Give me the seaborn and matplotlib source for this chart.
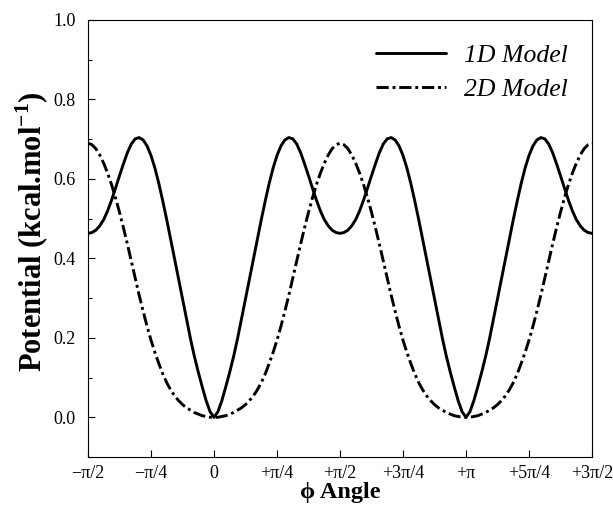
import numpy as np
import pandas as pd
import matplotlib
matplotlib.use("Agg")
import matplotlib.pyplot as plt
import seaborn as sns
from matplotlib.ticker import MultipleLocator, FixedLocator

# ---- data: angle in degrees, step = pi/64 ----
angle_deg = np.linspace(-90, 270, 129)

v_1d = [
    # -pi/2 .. 0
    0.463, 0.465, 0.471, 0.482, 0.498, 0.520, 0.547, 0.577, 0.608, 0.638, 0.666,
    0.688, 0.701, 0.704, 0.698, 0.683, 0.659, 0.627, 0.588, 0.544, 0.497, 0.448,
    0.398, 0.348, 0.298, 0.248, 0.199, 0.154, 0.114, 0.077, 0.042, 0.014, 0.000,
    # 0 .. pi/2
    0.014, 0.042, 0.077, 0.114, 0.154, 0.199, 0.248, 0.298, 0.348, 0.398, 0.448,
    0.497, 0.544, 0.588, 0.627, 0.659, 0.683, 0.698, 0.704, 0.701, 0.688, 0.666,
    0.638, 0.608, 0.577, 0.547, 0.520, 0.498, 0.482, 0.471, 0.465, 0.463,
    # pi/2 .. pi
    0.465, 0.471, 0.482, 0.498, 0.520, 0.547, 0.577, 0.608, 0.638, 0.666, 0.688,
    0.701, 0.704, 0.698, 0.683, 0.659, 0.627, 0.588, 0.544, 0.497, 0.448, 0.398,
    0.348, 0.298, 0.248, 0.199, 0.154, 0.114, 0.077, 0.042, 0.014, 0.000,
    # pi .. 3pi/2
    0.014, 0.042, 0.077, 0.114, 0.154, 0.199, 0.248, 0.298, 0.348, 0.398, 0.448,
    0.497, 0.544, 0.588, 0.627, 0.659, 0.683, 0.698, 0.704, 0.701, 0.688, 0.666,
    0.638, 0.608, 0.577, 0.547, 0.520, 0.498, 0.482, 0.471, 0.465, 0.463,
]

v_2d = [
    # -pi/2 .. 0
    0.690, 0.686, 0.676, 0.660, 0.639, 0.614, 0.585, 0.552, 0.516, 0.477, 0.436,
    0.393, 0.350, 0.307, 0.267, 0.229, 0.194, 0.163, 0.135, 0.109, 0.087, 0.069,
    0.054, 0.042, 0.032, 0.024, 0.018, 0.012, 0.008, 0.004, 0.002, 0.000, 0.000,
    # 0 .. pi/2
    0.000, 0.002, 0.004, 0.008, 0.012, 0.018, 0.024, 0.032, 0.042, 0.054, 0.069,
    0.087, 0.109, 0.135, 0.163, 0.194, 0.229, 0.267, 0.307, 0.350, 0.393, 0.436,
    0.477, 0.516, 0.552, 0.585, 0.614, 0.639, 0.660, 0.676, 0.686, 0.690,
    # pi/2 .. pi
    0.686, 0.676, 0.660, 0.639, 0.614, 0.585, 0.552, 0.516, 0.477, 0.436, 0.393,
    0.350, 0.307, 0.267, 0.229, 0.194, 0.163, 0.135, 0.109, 0.087, 0.069, 0.054,
    0.042, 0.032, 0.024, 0.018, 0.012, 0.008, 0.004, 0.002, 0.000, 0.000,
    # pi .. 3pi/2
    0.000, 0.002, 0.004, 0.008, 0.012, 0.018, 0.024, 0.032, 0.042, 0.054, 0.069,
    0.087, 0.109, 0.135, 0.163, 0.194, 0.229, 0.267, 0.307, 0.350, 0.393, 0.436,
    0.477, 0.516, 0.552, 0.585, 0.614, 0.639, 0.660, 0.676, 0.686, 0.690,
]

model_names = ["1D Model", "2D Model"]
xtick_pos = [-90, -45, 0, 45, 90, 135, 180, 225, 270]
xtick_labels = ["\u2212\u03c0/2", "\u2212\u03c0/4", "0", "+\u03c0/4", "+\u03c0/2",
                "+3\u03c0/4", "+\u03c0", "+5\u03c0/4", "+3\u03c0/2"]
ytick_pos = [0.0, 0.2, 0.4, 0.6, 0.8, 1.0]

# ---- style ----
sns.set_style("ticks")
plt.rcParams["font.family"] = ["Liberation Serif", "DejaVu Serif"]
plt.rcParams["mathtext.fontset"] = "custom"
plt.rcParams["mathtext.rm"] = "Liberation Serif"
plt.rcParams["mathtext.bf"] = "Liberation Serif:bold"
plt.rcParams["axes.linewidth"] = 0.8
plt.rcParams["text.color"] = "black"
plt.rcParams["axes.labelcolor"] = "black"
plt.rcParams["xtick.color"] = "black"
plt.rcParams["ytick.color"] = "black"

df = pd.DataFrame({
    "angle": np.concatenate([angle_deg, angle_deg]),
    "V": np.concatenate([v_1d, v_2d]),
    "Model": [model_names[0]] * len(v_1d) + [model_names[1]] * len(v_2d),
})

fig = plt.figure(figsize=(6.13, 5.08), dpi=100)
ax = fig.add_axes([88 / 613, 1 - 457 / 508, 504 / 613, 437 / 508])

lw = 2.1
sns.lineplot(data=df, x="angle", y="V", style="Model", color="black",
             dashes={model_names[0]: "", model_names[1]: (4.2, 1.3, 1.0, 1.3)},
             linewidth=lw, estimator=None, sort=False, ax=ax)

ax.set_xlim(-90, 270)
ax.set_ylim(-0.1, 1.0)
ax.xaxis.set_major_locator(FixedLocator(xtick_pos))
ax.set_xticklabels(xtick_labels)
ax.yaxis.set_major_locator(FixedLocator(ytick_pos))
ax.set_yticklabels([f"{v:.1f}" for v in ytick_pos])
ax.yaxis.set_minor_locator(MultipleLocator(0.1))
ax.tick_params(axis="both", which="major", direction="in", length=5, width=0.8,
               labelsize=13, colors="black")
ax.tick_params(axis="y", which="major", pad=9)
ax.tick_params(axis="x", which="major", pad=6)
ax.tick_params(axis="y", which="minor", direction="in", length=3, width=0.8)
ax.tick_params(top=False, right=False)
for s in ax.spines.values():
    s.set_visible(True)
    s.set_color("black")

ax.set_xlabel("\u03d5 Angle", fontsize=17.5, fontweight="bold")
ax.xaxis.set_label_coords(0.5, -0.057)
ax.set_ylabel(r"Potential (kcal.mol$^{\mathbf{-1}}$)", fontsize=22, fontweight="bold")
ax.yaxis.set_label_coords(-0.073, 0.515)

leg = ax.legend(loc="upper right", frameon=False, handlelength=2.7,
                prop={"family": "Liberation Serif", "style": "italic", "size": 18.5},
                borderaxespad=0.55, labelspacing=0.42, handletextpad=0.7)
for line in leg.get_lines():
    line.set_linewidth(lw)

fig.savefig("out.png", dpi=100)
